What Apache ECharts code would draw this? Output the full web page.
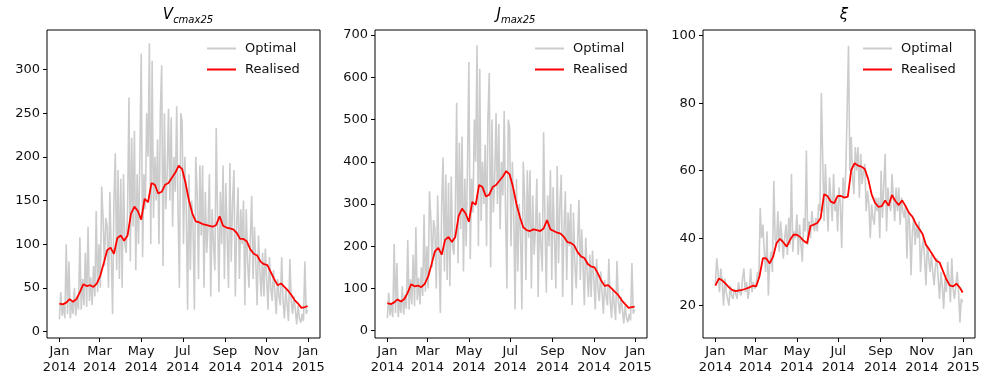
<!DOCTYPE html>
<html>
<head>
<meta charset="utf-8">
<script src="https://cdn.jsdelivr.net/npm/echarts@6/dist/echarts.min.js"></script>
<style>
html,body{margin:0;padding:0;background:#fff;}
#main{width:992px;height:392px;}
</style>
</head>
<body>
<div id="main"></div>
<script>
// 刻度 (day of year 2014)
var tickDays = [0, 59, 120, 181, 243, 304, 365];
var tickLabels = ["Jan\n2014", "Mar\n2014", "May\n2014", "Jul\n2014", "Sep\n2014", "Nov\n2014", "Jan\n2015"];

// Vcmax25 - optimal every 2 days, realised every 5 days
var vcmaxOpt = [14, 45, 18, 30, 15, 100, 20, 80, 15, 35, 20, 50, 18, 40, 25,
	108, 25, 60, 30, 90, 28, 120, 35, 62, 30, 75, 40, 138, 45, 100,
	50, 166, 130, 75, 130, 120, 50, 160, 90, 20, 150, 204, 70, 185, 60,
	175, 50, 180, 100, 90, 140, 268, 80, 222, 120, 230, 70, 180, 100, 200,
	318, 85, 180, 140, 250, 200, 330, 100, 310, 130, 200, 150, 220, 100, 250,
	305, 75, 250, 140, 180, 255, 150, 245, 120, 200, 160, 258, 140, 50, 250,
	240, 100, 200, 140, 25, 180, 70, 150, 120, 25, 200, 160, 60, 190, 110,
	190, 50, 160, 90, 120, 180, 40, 140, 100, 70, 233, 130, 45, 160, 100,
	190, 60, 170, 110, 50, 193, 80, 150, 185, 40, 120, 165, 60, 140, 100,
	150, 30, 140, 80, 50, 105, 155, 60, 120, 80, 30, 110, 70, 40, 90,
	40, 95, 60, 25, 85, 50, 35, 70, 45, 20, 60, 40, 30, 85, 35,
	15, 50, 30, 12, 83, 35, 20, 40, 25, 8, 30, 15, 10, 20, 12,
	80, 20, 25];
var vcmaxReal = [32, 31, 33, 37, 34, 37, 45, 54, 52, 53,
	51, 55, 64, 78, 93, 96, 89, 107, 110, 104,
	110, 135, 143, 138, 128, 152, 148, 170, 168, 158,
	160, 168, 170, 176, 182, 190, 186, 170, 150, 135,
	126, 125, 123, 122, 121, 120, 122, 132, 121, 119,
	118, 117, 113, 106, 106, 103, 94, 89, 87, 80,
	77, 76, 68, 60, 53, 55, 51, 47, 42, 36,
	32, 27, 28, 29];

// Jmax25
var jmaxOpt = [30, 90, 36, 62, 32, 205, 42, 160, 32, 72, 42, 105, 38, 85, 52,
	215, 50, 122, 62, 180, 58, 245, 72, 125, 62, 150, 82, 275, 92, 200,
	100, 330, 265, 150, 262, 240, 100, 320, 180, 42, 300, 410, 140, 370, 120,
	350, 105, 365, 200, 180, 280, 540, 160, 445, 240, 460, 140, 360, 200, 400,
	636, 170, 360, 280, 500, 400, 676, 200, 620, 260, 400, 300, 440, 200, 500,
	610, 150, 500, 280, 360, 515, 300, 490, 240, 400, 320, 520, 280, 100, 500,
	480, 200, 400, 280, 50, 360, 140, 300, 240, 50, 400, 320, 120, 380, 220,
	380, 100, 320, 180, 240, 360, 80, 280, 200, 140, 470, 260, 90, 320, 200,
	380, 120, 340, 220, 100, 390, 160, 300, 370, 80, 240, 330, 120, 280, 200,
	300, 60, 280, 160, 100, 210, 310, 120, 240, 160, 60, 220, 140, 80, 180,
	80, 190, 120, 50, 170, 100, 70, 140, 90, 40, 120, 80, 60, 170, 70,
	30, 100, 60, 25, 165, 70, 40, 80, 50, 17, 60, 30, 20, 40, 24,
	160, 40, 50];
var jmaxReal = [65, 63, 67, 74, 69, 75, 90, 110, 105, 107,
	103, 111, 128, 157, 188, 196, 180, 215, 222, 210,
	222, 272, 289, 278, 258, 305, 298, 345, 340, 318,
	322, 340, 345, 355, 365, 378, 370, 340, 300, 270,
	245, 238, 236, 240, 238, 236, 242, 262, 240, 236,
	232, 230, 222, 210, 208, 202, 186, 176, 172, 158,
	152, 150, 135, 118, 106, 108, 100, 92, 84, 72,
	63, 54, 56, 57];

// xi
var xiOpt = [26, 34, 30, 24, 31, 27, 20, 28, 24, 22, 20, 26, 23, 22, 25,
	25, 22, 27, 24, 23, 28, 31, 24, 27, 22, 25, 31, 24, 27, 25,
	26, 30, 28, 49, 40, 44, 36, 30, 42, 23, 33, 36, 30, 57, 40,
	38, 48, 36, 45, 40, 34, 40, 44, 35, 46, 38, 59, 36, 42, 40,
	47, 35, 44, 38, 33, 46, 42, 66, 38, 45, 40, 48, 44, 42, 46,
	42, 50, 48, 83, 83, 45, 62, 50, 42, 58, 52, 45, 59, 48, 52,
	42, 55, 50, 37, 58, 52, 60, 78, 97, 60, 70, 58, 53, 67, 60,
	67, 52, 65, 56, 60, 62, 48, 54, 50, 40, 50, 46, 44, 52, 48,
	52, 40, 60, 46, 56, 65, 42, 55, 50, 48, 59, 52, 45, 55, 48,
	55, 44, 52, 48, 46, 50, 34, 48, 44, 29, 42, 46, 38, 44, 40,
	45, 30, 37, 40, 34, 26, 38, 34, 30, 35, 30, 26, 32, 34, 28,
	22, 30, 26, 19, 28, 24, 33, 28, 21, 34, 25, 22, 26, 30, 24,
	15, 22, 21];
var xiReal = [25.9, 28.0, 27.5, 26.5, 25.4, 24.6, 24.3, 24.5, 24.7, 25.0,
	25.4, 25.9, 25.7, 28.7, 34.1, 34.0, 32.5, 34.5, 38.5, 39.8,
	38.8, 37.5, 39.5, 41.0, 41.0, 40.3, 39.2, 38.5, 43.6, 44.0,
	44.5, 46.0, 53.0, 52.5, 50.8, 50.4, 52.5, 52.5, 52.0, 52.3,
	60.2, 62.2, 61.5, 61.2, 60.5, 57.5, 53.0, 50.5, 49.3, 49.5,
	51.2, 49.6, 52.8, 51.0, 49.8, 51.2, 49.5, 47.5, 46.4, 44.3,
	42.8, 41.2, 38.0, 36.6, 35.0, 33.4, 32.8, 30.3, 27.8, 26.0,
	25.7, 26.5, 25.3, 23.9];

var vcmaxTicks = [0, 50, 100, 150, 200, 250, 300];
var jmaxTicks = [0, 100, 200, 300, 400, 500, 600, 700];
var xiTicks = [20, 40, 60, 80, 100];

var font = "DejaVu Sans";
var textColor = "#111";

// 每组数据配上日期
function withDays(vals, step) {
	var out = [];
	for (var i = 0; i < vals.length; i++) {
		out.push([Math.min(i * step, 364), vals[i]]);
	}
	return out;
}

var grids = [
	{left: 47, top: 30, width: 273, height: 308},
	{left: 375, top: 30, width: 272, height: 308},
	{left: 703, top: 30, width: 272, height: 308}
];

function xAxisFor(i) {
	return {
		type: "value", gridIndex: i, min: -18.2, max: 382.2, position: "bottom",
		splitLine: {show: false},
		axisLine: {show: false, onZero: false},
		axisTick: {show: true, length: 4, inside: false, customValues: tickDays, lineStyle: {color: "#000"}},
		axisLabel: {
			customValues: tickDays, color: textColor, fontFamily: font, fontSize: 13, lineHeight: 16, margin: 6,
			formatter: function(v) {
				var k = tickDays.indexOf(Math.round(v));
				return k >= 0 ? tickLabels[k] : "";
			}
		}
	};
}

function yAxisFor(i, min, max, ticks) {
	return {
		type: "value", gridIndex: i, min: min, max: max, position: "left",
		splitLine: {show: false},
		axisLine: {show: false, onZero: false},
		axisTick: {show: true, length: 4, customValues: ticks, lineStyle: {color: "#000"}},
		axisLabel: {customValues: ticks, color: textColor, fontFamily: font, fontSize: 13, margin: 7}
	};
}

function lineSeries(name, i, data, color, w, z) {
	return {
		name: name, type: "line", xAxisIndex: i, yAxisIndex: i,
		data: data, symbol: "none", showSymbol: false, z: z,
		lineStyle: {color: color, width: w},
		itemStyle: {color: color},
		animation: false
	};
}

function legendFor(left) {
	return {
		orient: "vertical", left: left, top: 42, padding: 0, itemGap: 8,
		icon: "rect", itemWidth: 29, itemHeight: 2,
		textStyle: {fontFamily: font, fontSize: 13, color: textColor, padding: [0, 0, 0, 4]},
		data: ["Optimal", "Realised"]
	};
}

var titleRich = {
	v: {fontFamily: font, fontSize: 15, fontStyle: "italic", fontWeight: "normal", color: "#000", padding: [0, 0, 4, 0]},
	s: {fontFamily: font, fontSize: 10, fontStyle: "italic", fontWeight: "normal", color: "#000", padding: [6, 0, 0, 0]}
};

var chart = echarts.init(document.getElementById("main"), null, {renderer: "canvas"});
chart.setOption({
	backgroundColor: "#fff",
	animation: false,
	title: [
		{text: "{v|V}{s|cmax25}", left: 183, top: 3, textAlign: "center", textStyle: {fontWeight: "normal", rich: titleRich}},
		{text: "{v|J}{s|max25}", left: 511, top: 3, textAlign: "center", textStyle: {fontWeight: "normal", rich: titleRich}},
		{text: "{v|ξ}", left: 839, top: 3, textAlign: "center", textStyle: {fontWeight: "normal", rich: titleRich}}
	],
	legend: [legendFor(207), legendFor(535), legendFor(863)],
	grid: grids.map(function(g) {
		return {left: g.left, top: g.top, width: g.width, height: g.height,
			show: true, borderColor: "#000", borderWidth: 1, backgroundColor: "transparent"};
	}),
	xAxis: [xAxisFor(0), xAxisFor(1), xAxisFor(2)],
	yAxis: [
		yAxisFor(0, -7.5, 345.3, vcmaxTicks),
		yAxisFor(1, -17.3, 712, jmaxTicks),
		yAxisFor(2, 10.4, 101.7, xiTicks)
	],
	series: [
		lineSeries("Optimal", 0, withDays(vcmaxOpt, 2), "#cccccc", 1.6, 2),
		lineSeries("Realised", 0, withDays(vcmaxReal, 5), "#ff0000", 1.8, 3),
		lineSeries("Optimal", 1, withDays(jmaxOpt, 2), "#cccccc", 1.6, 2),
		lineSeries("Realised", 1, withDays(jmaxReal, 5), "#ff0000", 1.8, 3),
		lineSeries("Optimal", 2, withDays(xiOpt, 2), "#cccccc", 1.6, 2),
		lineSeries("Realised", 2, withDays(xiReal, 5), "#ff0000", 1.8, 3)
	]
});
</script>
</body>
</html>
